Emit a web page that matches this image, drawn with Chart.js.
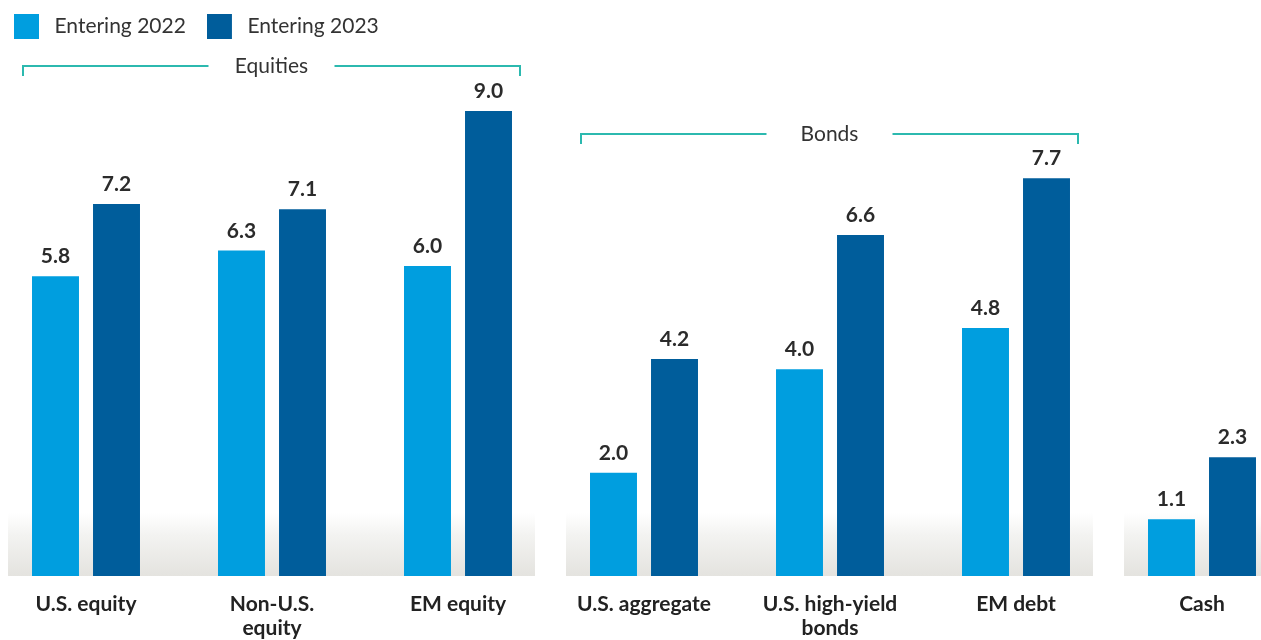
<!DOCTYPE html>
<html>
<head>
<meta charset="utf-8">
<script src="https://cdn.jsdelivr.net/npm/chart.js@4/dist/chart.umd.min.js"></script>
<style>
html, body { margin: 0; padding: 0; background: #ffffff; overflow: hidden; width: 1261px; height: 640px; }
#wrap { position: absolute; left: -7px; top: -7px; width: 1302px; height: 647px; }
</style>
</head>
<body>
<div id="wrap"><canvas id="c" width="1302" height="647"></canvas></div>
<script>
// ---- data ----
const categories = [["U.S. equity"], ["Non-U.S.", "equity"], ["EM equity"], ["U.S. aggregate"], ["U.S. high-yield", "bonds"], ["EM debt"], ["Cash"]];
const seriesNames = ["Entering 2022", "Entering 2023"];
const entering2022 = [5.8, 6.3, 6.0, 2.0, 4.0, 4.8, 1.1];
const entering2023 = [7.2, 7.1, 9.0, 4.2, 6.6, 7.7, 2.3];
const groupNames = ["Equities", "Bonds", ""];
const groupFirst = [0, 3, 6];
const groupLast = [2, 5, 6];

// ---- style ----
const COL_LIGHT = "#009edf";
const COL_DARK = "#005d9b";
const COL_TEAL = "#2cb9af";
const COL_TEXT = "#2b2b2b";
const FONT = "Lato";
const bracketLevels = [9.87, 8.55, null]; // y-levels (axis units) of the group brackets

// legend swatch: 25x25 square with a little extra room on its right
function legendSwatch(color) {
  const cv = document.createElement("canvas");
  cv.width = 30; cv.height = 25;
  const g = cv.getContext("2d");
  g.fillStyle = color;
  g.fillRect(0, 0, 25, 25);
  return cv;
}

const bandPlugin = {
  id: "bands",
  beforeDatasetsDraw(chart) {
    const { ctx, chartArea, scales: { x } } = chart;
    const bottom = chartArea.bottom;
    const top = bottom - 63;
    ctx.save();
    for (let g = 0; g < groupNames.length; g++) {
      const l = x.getPixelForValue(groupFirst[g]) - 78;
      const r = x.getPixelForValue(groupLast[g]) + 77;
      const grad = ctx.createLinearGradient(0, top, 0, bottom);
      grad.addColorStop(0, "rgba(255,255,255,1)");
      grad.addColorStop(0.35, "#f3f3f1");
      grad.addColorStop(1, "#e4e3df");
      ctx.fillStyle = grad;
      ctx.fillRect(l, top, r - l, bottom - top);
    }
    ctx.restore();
  }
};

const valueLabelPlugin = {
  id: "valueLabels",
  afterDatasetsDraw(chart) {
    const { ctx } = chart;
    ctx.save();
    ctx.font = "bold 21px " + FONT;
    ctx.fillStyle = COL_TEXT;
    ctx.textAlign = "center";
    ctx.textBaseline = "alphabetic";
    chart.data.datasets.forEach((ds, i) => {
      const meta = chart.getDatasetMeta(i);
      meta.data.forEach((bar, j) => {
        ctx.fillText(ds.data[j].toFixed(1), bar.x, bar.y - 13);
      });
    });
    ctx.restore();
  }
};

const bracketPlugin = {
  id: "brackets",
  afterDraw(chart) {
    const { ctx, scales: { x, y } } = chart;
    ctx.save();
    for (let g = 0; g < groupNames.length; g++) {
      if (bracketLevels[g] === null) continue;
      const l = x.getPixelForValue(groupFirst[g]) - 63;
      const r = x.getPixelForValue(groupLast[g]) + 62;
      const yy = Math.round(y.getPixelForValue(bracketLevels[g]));
      const c = (l + r) / 2;
      ctx.strokeStyle = COL_TEAL;
      ctx.lineWidth = 2;
      ctx.beginPath();
      ctx.moveTo(l, yy + 10);
      ctx.lineTo(l, yy);
      ctx.lineTo(c - 63, yy);
      ctx.moveTo(c + 63, yy);
      ctx.lineTo(r, yy);
      ctx.lineTo(r, yy + 10);
      ctx.stroke();
      ctx.font = "21px " + FONT;
      ctx.fillStyle = "#333333";
      ctx.textAlign = "center";
      ctx.textBaseline = "middle";
      ctx.fillText(groupNames[g], c, yy);
    }
    ctx.restore();
  }
};

function draw() {
  new Chart(document.getElementById("c"), {
    type: "bar",
    data: {
      labels: categories,
      datasets: [
        { label: seriesNames[0], data: entering2022, backgroundColor: COL_LIGHT, borderWidth: 0, barPercentage: 0.77, categoryPercentage: 0.656, pointStyle: legendSwatch(COL_LIGHT) },
        { label: seriesNames[1], data: entering2023, backgroundColor: COL_DARK, borderWidth: 0, barPercentage: 0.77, categoryPercentage: 0.656, pointStyle: legendSwatch(COL_DARK) }
      ]
    },
    options: {
      responsive: false,
      animation: false,
      layout: { padding: { top: 2, left: 0, right: 0, bottom: 0 } },
      plugins: {
        tooltip: { enabled: false },
        legend: {
          display: true,
          position: "top",
          align: "start",
          labels: {
            font: { family: FONT, size: 21 },
            color: "#333333",
            usePointStyle: true,
            pointStyleWidth: 30,
            boxHeight: 21,
            padding: 21
          }
        }
      },
      scales: {
        x: {
          type: "category",
          offset: true,
          grid: { display: false, drawTicks: false },
          border: { display: false },
          ticks: {
            font: { family: FONT, size: 21, weight: "bold", lineHeight: 1.15 },
            color: "#222222",
            padding: 16,
            autoSkip: false,
            maxRotation: 0,
            minRotation: 0
          },
          afterFit(scale) { scale.height = 64; }
        },
        y: {
          display: false,
          min: 0,
          max: 10.24
        }
      }
    },
    plugins: [bandPlugin, valueLabelPlugin, bracketPlugin]
  });
}

if (document.fonts && document.fonts.load) {
  Promise.all([
    document.fonts.load("21px Lato"),
    document.fonts.load("bold 21px Lato")
  ]).then(draw, draw);
} else {
  draw();
}
</script>
</body>
</html>
